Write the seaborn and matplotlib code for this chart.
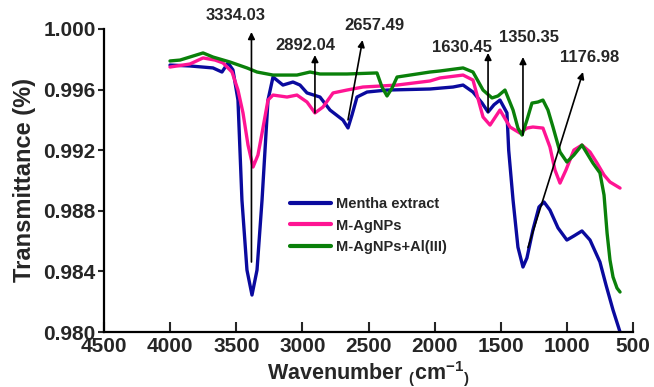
import numpy as np
import pandas as pd
import matplotlib
matplotlib.use("Agg")
import matplotlib.pyplot as plt
import seaborn as sns

# ---------------- data ----------------
series_names = ["Mentha extract", "M-AgNPs", "M-AgNPs+Al(III)"]

mentha_wn = [4001, 3850, 3676, 3608, 3562, 3525, 3487, 3457, 3419, 3381, 3343, 3305,
             3260, 3222, 3147, 3071, 3018, 2965, 2867, 2791, 2693, 2655, 2625, 2587,
             2511, 2360, 2035, 1861, 1785, 1710, 1642, 1596, 1551, 1506, 1453, 1440,
             1407, 1370, 1332, 1302, 1257, 1211, 1173, 1128, 1067, 1000, 947, 886,
             825, 750, 704, 651, 598]
mentha_t = [0.99762, 0.99756, 0.99743, 0.99716, 0.99776, 0.99730, 0.99531, 0.98871,
            0.98409, 0.98244, 0.98409, 0.98871, 0.99531, 0.99683, 0.99630, 0.99650,
            0.99630, 0.99578, 0.99551, 0.99465, 0.99399, 0.99347, 0.99432, 0.99551,
            0.99584, 0.99597, 0.99604, 0.99617, 0.99630, 0.99584, 0.99512, 0.99452,
            0.99500, 0.99531, 0.99446, 0.99200, 0.98871, 0.98560, 0.98429, 0.98489,
            0.98673, 0.98825, 0.98858, 0.98805, 0.98687, 0.98607, 0.98634, 0.98667,
            0.98607, 0.98462, 0.98310, 0.98145, 0.98000]

agnp_wn = [4001, 3850, 3751, 3661, 3600, 3532, 3487, 3449, 3411, 3373, 3336, 3305,
           3260, 3222, 3116, 3041, 2965, 2905, 2844, 2768, 2663, 2542, 2284, 2035,
           1959, 1785, 1710, 1634, 1581, 1506, 1430, 1355, 1302, 1257, 1181, 1128,
           1090, 1052, 1007, 947, 886, 825, 772, 719, 674, 598]
agnp_t = [0.99749, 0.99769, 0.99809, 0.99795, 0.99776, 0.99716, 0.99597, 0.99446,
          0.99234, 0.99089, 0.99168, 0.99313, 0.99531, 0.99564, 0.99551, 0.99564,
          0.99518, 0.99446, 0.99485, 0.99578, 0.99597, 0.99617, 0.99630, 0.99657,
          0.99677, 0.99696, 0.99663, 0.99419, 0.99366, 0.99465, 0.99353, 0.99313,
          0.99346, 0.99353, 0.99346, 0.99221, 0.99069, 0.98983, 0.99069, 0.99201,
          0.99234, 0.99188, 0.99115, 0.99036, 0.98990, 0.98950]

al_wn = [4001, 3925, 3751, 3676, 3547, 3419, 3343, 3222, 3041, 2942, 2867, 2663,
         2436, 2398, 2360, 2322, 2284, 2035, 1959, 1785, 1710, 1634, 1566, 1521,
         1468, 1407, 1370, 1339, 1302, 1264, 1219, 1181, 1143, 1105, 1052, 1000,
         947, 886, 840, 803, 750, 719, 696, 674, 651, 621, 598]
al_t = [0.99789, 0.99795, 0.99842, 0.99815, 0.99782, 0.99743, 0.99716, 0.99696,
        0.99696, 0.99716, 0.99703, 0.99703, 0.99710, 0.99617, 0.99558, 0.99610,
        0.99683, 0.99716, 0.99723, 0.99743, 0.99716, 0.99597, 0.99545, 0.99558,
        0.99597, 0.99465, 0.99346, 0.99300, 0.99399, 0.99511, 0.99518, 0.99531,
        0.99465, 0.99353, 0.99188, 0.99122, 0.99168, 0.99234, 0.99168, 0.99115,
        0.99050, 0.98904, 0.98653, 0.98475, 0.98363, 0.98290, 0.98264]

peak_labels = ["3334.03", "2892.04", "2657.49", "1630.45", "1350.35", "1176.98"]
arrow_base_wn = [3385, 2905, 2655, 1596, 1332, 1294]
arrow_base_t = [0.98462, 0.99446, 0.99400, 0.99452, 0.99300, 0.98557]
arrow_tip_wn = [3385, 2905, 2545, 1596, 1332, 878]
arrow_tip_t = [0.99980, 0.99828, 0.99927, 0.99842, 0.99815, 0.99716]
label_wn = [3502, 2980, 2458, 1793, 1286, 825]
label_t = [1.00086, 0.99894, 1.00026, 0.99881, 0.99941, 0.99815]

x_ticks = [4500, 4000, 3500, 3000, 2500, 2000, 1500, 1000, 500]
y_ticks = [0.980, 0.984, 0.988, 0.992, 0.996, 1.000]

colors = ["#0A0A9E", "#FF1493", "#0A800A"]

# ---------------- frame ----------------
df = pd.concat([
    pd.DataFrame({"wn": mentha_wn, "T": mentha_t, "series": series_names[0]}),
    pd.DataFrame({"wn": agnp_wn, "T": agnp_t, "series": series_names[1]}),
    pd.DataFrame({"wn": al_wn, "T": al_t, "series": series_names[2]}),
], ignore_index=True)

sns.set_style("ticks")
plt.rcParams["font.family"] = ["Liberation Sans", "DejaVu Sans"]
plt.rcParams["font.weight"] = "bold"
plt.rcParams["mathtext.fontset"] = "custom"
plt.rcParams["mathtext.rm"] = "Liberation Sans:bold"
plt.rcParams["mathtext.bf"] = "Liberation Sans:bold"
plt.rcParams["mathtext.it"] = "Liberation Sans:bold"

fig = plt.figure(figsize=(6.54, 3.87), dpi=100)
ax = fig.add_axes([104 / 654, 1 - 332 / 387, (633 - 104) / 654, (332 - 29) / 387])

sns.lineplot(data=df, x="wn", y="T", hue="series", palette=colors,
             hue_order=series_names, ax=ax, linewidth=2.4, sort=False,
             estimator=None, legend=True)
for ln in ax.get_lines():
    ln.set_solid_joinstyle("round")
    ln.set_solid_capstyle("round")

ax.set_xlim(4500, 500)
ax.set_ylim(0.980, 1.000)
ax.set_xticks(x_ticks)
ax.set_yticks(y_ticks)
ax.set_yticklabels([f"{v:.3f}" for v in y_ticks])
ax.tick_params(axis="x", direction="in", length=7, width=1.5, labelsize=15, pad=3.5)
ax.tick_params(axis="y", direction="out", length=4, width=1.5, labelsize=15, pad=2)
for lab in ax.get_xticklabels() + ax.get_yticklabels():
    lab.set_fontweight("bold")

for s in ["top", "right"]:
    ax.spines[s].set_visible(False)
for s in ["left", "bottom"]:
    ax.spines[s].set_linewidth(1.6)
    ax.spines[s].set_color("black")

ax.set_xlabel("")
fig.text(368.5 / 654, 1 - 379 / 387,
         r"$\mathbf{Wavenumber}\ {}_{\mathbf{(}}\mathbf{cm}^{\mathbf{-1}}{}_{\mathbf{)}}$",
         fontsize=15.5, ha="center", va="baseline")
ax.set_ylabel("Transmittance (%)", fontsize=17, fontweight="bold", labelpad=2)
ax.yaxis.set_label_coords(-0.128, 0.5)

# arrows and peak labels
for lbl, bx, by, tx, ty, lx, ly in zip(peak_labels, arrow_base_wn, arrow_base_t,
                                       arrow_tip_wn, arrow_tip_t, label_wn, label_t):
    ax.annotate("", xy=(tx, ty), xytext=(bx, by),
                arrowprops=dict(arrowstyle="-|>", color="black", lw=1.2,
                                mutation_scale=10, shrinkA=0, shrinkB=0),
                annotation_clip=False)
    ax.text(lx, ly, lbl, ha="center", va="center", fontsize=12,
            fontweight="bold", clip_on=False)

leg = ax.legend(loc="upper left", bbox_to_anchor=(0.34, 0.465), frameon=False,
                fontsize=10.5, handlelength=2.8, handletextpad=0.4,
                labelspacing=0.52, borderaxespad=0)
for t in leg.get_texts():
    t.set_fontweight("bold")
for h in leg.legend_handles:
    h.set_linewidth(3)

fig.savefig("out.png", dpi=100)
